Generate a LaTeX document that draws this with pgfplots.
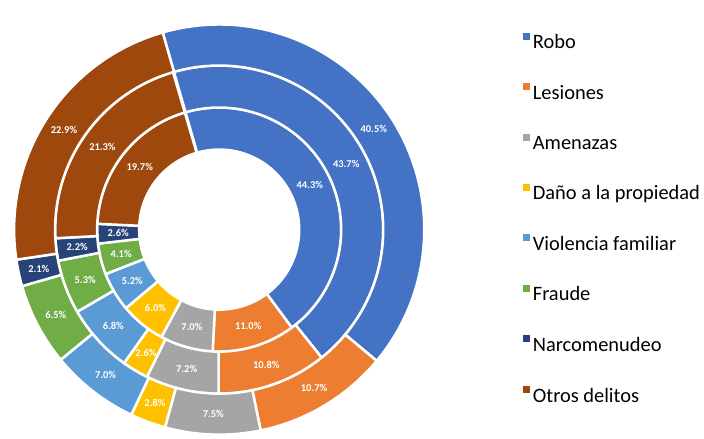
\documentclass[border=0pt]{standalone}
\usepackage{fontspec}
\setmainfont{Carlito}
\usepackage{pgfplots}
\usepackage{pgfplotstable}
\pgfplotsset{compat=1.18}
\definecolor{cRobo}{HTML}{4472C4}
\definecolor{cLes}{HTML}{ED7D31}
\definecolor{cAme}{HTML}{A5A5A5}
\definecolor{cDan}{HTML}{FFC000}
\definecolor{cVio}{HTML}{5B9BD5}
\definecolor{cFra}{HTML}{70AD47}
\definecolor{cNar}{HTML}{264478}
\definecolor{cOtr}{HTML}{9E480E}

% rows: Robo, Lesiones, Amenazas, Dano, Violencia familiar, Fraude, Narcomenudeo, Otros delitos
\pgfplotstableread{
inner middle outer
44.3 43.7 40.5
11.0 10.8 10.7
7.0 7.2 7.5
6.0 2.6 2.8
5.2 6.8 7.0
4.1 5.3 6.5
2.6 2.2 2.1
19.7 21.3 22.9
}\ringdata

\newcommand\ring[3]{%
  \gdef\cum{0}%
  \foreach \idx/\col in {0/cRobo,1/cLes,2/cAme,3/cDan,4/cVio,5/cFra,6/cNar,7/cOtr}{%
    \pgfplotstablegetelem{\idx}{#1}\of\ringdata
    \let\val\pgfplotsretval
    \pgfmathsetmacro\angA{106-3.6*\cum}%
    \pgfmathsetmacro\angB{\angA-3.6*\val}%
    \pgfmathsetmacro\angM{(\angA+\angB)/2}%
    \pgfmathsetmacro\rmid{(#2+#3)/2}%
    \filldraw[fill=\col, draw=white, line width=2.5bp]
      (\angA:#3) arc[start angle=\angA, end angle=\angB, radius=#3]
      -- (\angB:#2) arc[start angle=\angB, end angle=\angA, radius=#2] -- cycle;
    \node[text=white, font=\bfseries\fontsize{10.5}{12}\selectfont, inner sep=0pt]
      at (\angM:\rmid) {\pgfmathprintnumber[fixed, fixed zerofill, precision=1, assume math mode=true]{\val}\%};
    \pgfmathsetmacro\nc{\cum+\val}%
    \xdef\cum{\nc}%
  }%
}

\begin{document}
\begin{tikzpicture}
\begin{axis}[
  x=1bp, y=1bp,
  xmin=-221, xmax=483, ymin=-208, ymax=216,
  hide axis, clip=false,
  legend cell align=left,
  legend image code/.code={\fill[#1] (0bp,3.5bp) rectangle (6bp,9.5bp); \path (8bp,6bp);},
  legend style={at={(0.7415,0.96)}, anchor=north west, draw=none, fill=none,
    font=\fontsize{20.5}{24}\selectfont, row sep=33bp,
    nodes={inner xsep=1bp, inner ysep=0pt}},
]
\addlegendimage{cRobo}\addlegendentry{Robo}
\addlegendimage{cLes}\addlegendentry{Lesiones}
\addlegendimage{cAme}\addlegendentry{Amenazas}
\addlegendimage{cDan}\addlegendentry{Daño a la propiedad}
\addlegendimage{cVio}\addlegendentry{Violencia familiar}
\addlegendimage{cFra}\addlegendentry{Fraude}
\addlegendimage{cNar}\addlegendentry{Narcomenudeo}
\addlegendimage{cOtr}\addlegendentry{Otros delitos}
\pgfplotsextra{
  \begin{scope}[shift={(axis cs:0,0)}, x=1bp, y=1bp]
    \ring{inner}{80}{122}
    \ring{middle}{122}{164}
    \ring{outer}{164}{205}
  \end{scope}
}
\end{axis}
\end{tikzpicture}
\end{document}
